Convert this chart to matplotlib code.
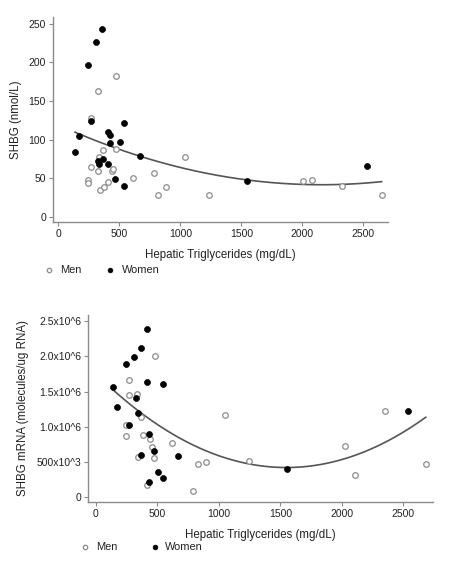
import numpy as np
import matplotlib
matplotlib.use("Agg")
import matplotlib.pyplot as plt
from matplotlib.lines import Line2D

plt.rcParams['font.family'] = ['Liberation Sans', 'DejaVu Sans']

# ---- Top panel: serum SHBG (nmol/L) vs hepatic triglycerides (mg/dL)
top_men_tg = [475, 325, 265, 369, 470, 338, 271, 323, 243, 243, 345, 377, 410,
              437, 451, 614, 784, 880, 818, 1041, 1232, 2003, 2079, 2322, 2653]
top_men_shbg = [183, 162.5, 128, 87, 88, 77, 64.5, 59, 48, 44, 35, 38, 44.5,
                58.8, 61.5, 50.4, 57, 38, 27.6, 77, 28.4, 46, 48, 40, 28]
top_women_tg = [361, 309, 240, 268, 537, 172, 409, 424, 427, 503, 134, 322, 333,
                366, 410, 464, 536, 666, 1550, 2530]
top_women_shbg = [243.5, 227, 197, 124, 122, 105, 110, 106, 95, 97.5, 83.6, 72,
                  68.5, 75.4, 68.5, 49, 40.3, 78.4, 46, 65.5]
# quadratic trend line
top_curve_tg = [137, 664, 997, 1544, 2008, 2322, 2650]
top_curve_shbg = [109.4, 79.3, 64.2, 46, 42.7, 42.7, 44.8]
top_yticks = [0, 50, 100, 150, 200, 250]
top_yticklabels = ["0", "50", "100", "150", "200", "250"]

# ---- Bottom panel: SHBG mRNA vs hepatic triglycerides
bot_men_tg = [480, 271, 268, 336, 244, 1052, 2350, 365, 244, 380, 437, 458, 345,
              474, 413, 618, 827, 892, 791, 1244, 2026, 2104, 2682]
bot_men_mrna = [2.0e6, 1.66e6, 1.45e6, 1.47e6, 1.02e6, 1.17e6, 1.23e6, 1.145e6,
                0.865e6, 0.884e6, 0.83e6, 0.713e6, 0.575e6, 0.557e6, 0.168e6,
                0.772e6, 0.476e6, 0.5e6, 0.088e6, 0.52e6, 0.727e6, 0.318e6, 0.475e6]
bot_women_tg = [412, 363, 312, 244, 412, 545, 136, 328, 173, 339, 271, 431, 2537,
                370, 469, 670, 508, 543, 431, 1558]
bot_women_mrna = [2.39e6, 2.12e6, 1.99e6, 1.89e6, 1.64e6, 1.61e6, 1.56e6, 1.41e6,
                  1.28e6, 1.19e6, 1.02e6, 0.9e6, 1.22e6, 0.605e6, 0.655e6, 0.59e6,
                  0.355e6, 0.27e6, 0.215e6, 0.4e6]
bot_curve_tg = [128, 412, 629, 846, 1558, 2092, 2683]
bot_curve_mrna = [1.56e6, 1.12e6, 0.91e6, 0.67e6, 0.376e6, 0.671e6, 1.1e6]
bot_yticks = [0, 0.5e6, 1.0e6, 1.5e6, 2.0e6, 2.5e6]
bot_yticklabels = ["0", "500x10^3", "1.0x10^6", "1.5x10^6", "2.0x10^6", "2.5x10^6"]

xticks = [0, 500, 1000, 1500, 2000, 2500]
xticklabels = ["0", "500", "1000", "1500", "2000", "2500"]
xlabel = "Hepatic Triglycerides (mg/dL)"
legend_labels = ["Men", "Women"]

W, H = 450, 562
fig = plt.figure(figsize=(W / 100, H / 100), dpi=100)
fig.patch.set_facecolor("white")

AXC = "#8a8a8a"
OPEN_EC = "#8c8c8c"
CURVE_C = "#555555"
TXT = "#222222"


def px_axes(left, top, right, bottom):
    return fig.add_axes([left / W, 1 - bottom / H, (right - left) / W, (bottom - top) / H])


def style(ax):
    for s in ["top", "right"]:
        ax.spines[s].set_visible(False)
    for s in ["left", "bottom"]:
        ax.spines[s].set_color(AXC)
        ax.spines[s].set_linewidth(1.0)
    ax.tick_params(axis="both", direction="out", length=3, width=0.8, color=AXC,
                   labelsize=7.5, labelcolor=TXT, pad=2)
    ax.set_facecolor("white")


def panel(ax, men_x, men_y, wom_x, wom_y, cx, cy, yticks, yticklabels, xlim, ylim, ylabel):
    style(ax)
    coef = np.polyfit(np.array(cx, float), np.array(cy, float), 2)
    xs = np.linspace(min(cx), max(cx), 200)
    ax.plot(xs, np.polyval(coef, xs), color=CURVE_C, lw=1.2, zorder=2)
    ax.plot(men_x, men_y, "o", ms=4.0, mfc="white", mec=OPEN_EC, mew=0.9,
            linestyle="none", zorder=3)
    ax.plot(wom_x, wom_y, "o", ms=4.3, mfc="black", mec="black", mew=0.5,
            linestyle="none", zorder=4)
    ax.set_xlim(*xlim)
    ax.set_ylim(*ylim)
    ax.set_xticks(xticks)
    ax.set_xticklabels(xticklabels)
    ax.set_yticks(yticks)
    ax.set_yticklabels(yticklabels)
    ax.set_xlabel(xlabel, fontsize=8.3, color=TXT, labelpad=7)
    ax.set_ylabel(ylabel, fontsize=8.3, color=TXT, labelpad=5)


ax1 = px_axes(53, 17, 388, 222)
panel(ax1, top_men_tg, top_men_shbg, top_women_tg, top_women_shbg,
      top_curve_tg, top_curve_shbg,
      top_yticks, top_yticklabels, (-43, 2702), (-6.9, 259), "SHBG (nmol/L)")

ax2 = px_axes(88, 315, 433, 502)
panel(ax2, bot_men_tg, bot_men_mrna, bot_women_tg, bot_women_mrna,
      bot_curve_tg, bot_curve_mrna,
      bot_yticks, bot_yticklabels, (-65, 2742), (-0.067e6, 2.585e6),
      "SHBG mRNA (molecules/ug RNA)")


def legend_row(y, xm, xmt, xw, xwt):
    yf = 1 - y / H
    fig.add_artist(Line2D([xm / W], [yf], marker="o", ms=3.2,
                          mfc="white", mec=OPEN_EC, mew=0.9, linestyle="none"))
    fig.text(xmt / W, yf, legend_labels[0], fontsize=7.9, va="center", ha="left", color=TXT)
    fig.add_artist(Line2D([xw / W], [yf], marker="o", ms=3.4,
                          mfc="black", mec="black", mew=0.5, linestyle="none"))
    fig.text(xwt / W, yf, legend_labels[1], fontsize=7.9, va="center", ha="left", color=TXT)


legend_row(270, 49, 60, 110, 122)
legend_row(547, 85, 96, 155, 165)

fig.savefig("out.png", dpi=100, facecolor="white")
